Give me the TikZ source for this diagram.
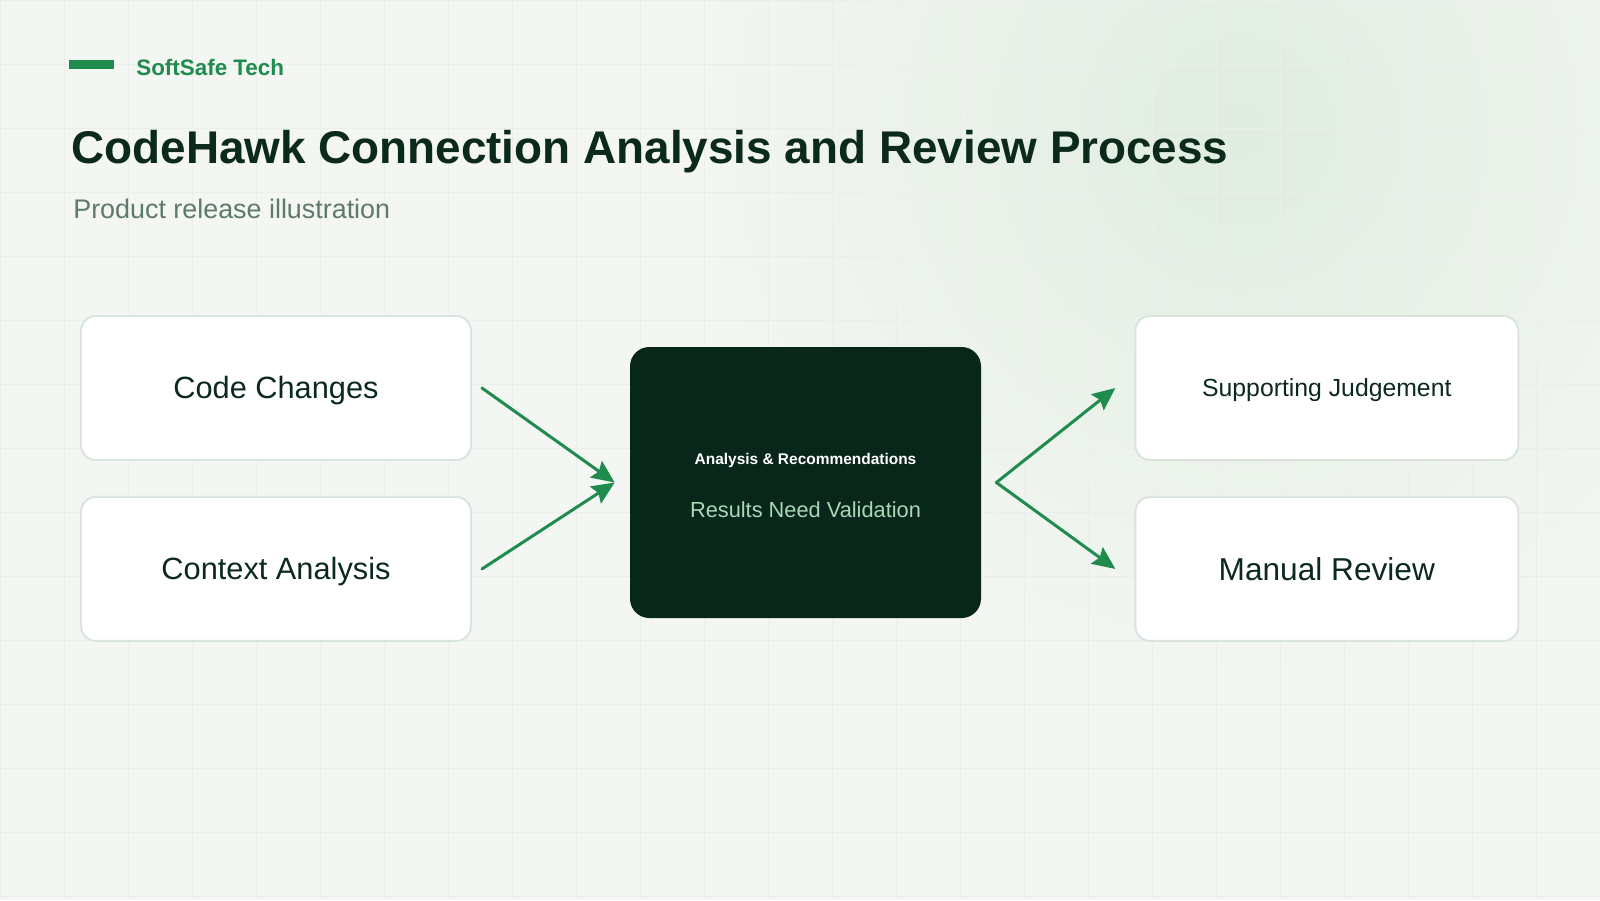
\documentclass[tikz,border=0pt]{standalone}
\usepackage{fontspec}
\setmainfont{Liberation Sans}
\usepackage{xcolor}
\usepackage{tikz}
\usetikzlibrary{arrows.meta,positioning}

\definecolor{bgpaper}{HTML}{F3F6F2}
\definecolor{gridline}{HTML}{EAEFEB}
\definecolor{glow}{HTML}{E0EDE0}
\definecolor{accent}{HTML}{1F8B4C}
\definecolor{ink}{HTML}{0B2A1C}
\definecolor{muted}{HTML}{5E7A68}
\definecolor{cardline}{HTML}{D8E4DC}
\definecolor{hubfill}{HTML}{09261A}
\definecolor{softgreen}{HTML}{A9D8B8}

\begin{document}
\begin{tikzpicture}[
    card/.style={draw=cardline, line width=1.1pt, fill=white, rounded corners=8.5pt, minimum width=7.8cm, minimum height=2.88cm, text=ink, align=center},
    caps/.style={text height=#1, text depth=0pt},
    hubbox/.style={fill=hubfill, rounded corners=11pt, minimum width=7.02cm, minimum height=5.42cm},
    heading/.style={anchor=base west, inner sep=0pt},
    flow/.style={-{Stealth[length=13pt,width=11.5pt,inset=2pt]}, draw=accent, line width=1.7pt, line cap=round},
]
    % Background
    \useasboundingbox (0,0) rectangle (32,-18);
    \fill[bgpaper] (0,0) rectangle (32,-18);
    \shade[inner color=glow, outer color=bgpaper] (24.8,-2.6) circle (11cm);
    \draw[gridline, line width=0.5pt, step=1.28cm] (0,-18) grid (32,0);

    % Header
    \fill[accent] (1.38,-1.2) rectangle (2.28,-1.38);
    \node[heading, font=\fontsize{12.75}{15}\selectfont\bfseries, text=accent] (brand) at (2.72,-1.5) {SoftSafe Tech};
    \node[heading, font=\fontsize{26.1}{31}\selectfont\bfseries, text=ink] (title) at (1.42,-3.26) {CodeHawk Connection Analysis and Review Process};
    \node[heading, font=\fontsize{15.3}{18}\selectfont, text=muted] (subtitle) at (1.46,-4.36) {Product release illustration};

    % Inputs
    \node[card, caps=12.5pt, font=\fontsize{17.5}{21}\selectfont] (code) at (5.52,-7.76) {Code Changes};
    \node[card, caps=12.5pt, font=\fontsize{17.5}{21}\selectfont, below=0.7cm of code] (context) {Context Analysis};

    % Hub
    \node[hubbox] (hub) at (16.11,-9.65) {};
    \node[caps=6.3pt, font=\fontsize{8.8}{10}\selectfont\bfseries, text=white] (hubtitle) at ([yshift=0.47cm]hub.center) {Analysis \& Recommendations};
    \node[caps=8.9pt, font=\fontsize{12.4}{15}\selectfont, text=softgreen] (hubnote) at ([yshift=-0.55cm]hub.center) {Results Need Validation};

    % Outputs
    \coordinate (rcol) at ([xshift=3.06cm]hub.east);
    \node[card, caps=10.1pt, minimum width=7.66cm, anchor=west, font=\fontsize{14.1}{17}\selectfont] (judge) at (rcol |- code) {Supporting Judgement};
    \node[card, caps=12.9pt, minimum width=7.66cm, font=\fontsize{18}{22}\selectfont, below=0.7cm of judge] (review) {Manual Review};

    % Connectors
    \coordinate (in) at ([xshift=-0.3cm]hub.west);
    \coordinate (out) at ([xshift=0.3cm]hub.east);
    \draw[flow] ([xshift=0.2cm]code.east) -- (in);
    \draw[flow] ([xshift=0.2cm]context.east) -- (in);
    \draw[flow] (out) -- ([xshift=-0.38cm]judge.west);
    \draw[flow] (out) -- ([xshift=-0.38cm]review.west);
\end{tikzpicture}
\end{document}
